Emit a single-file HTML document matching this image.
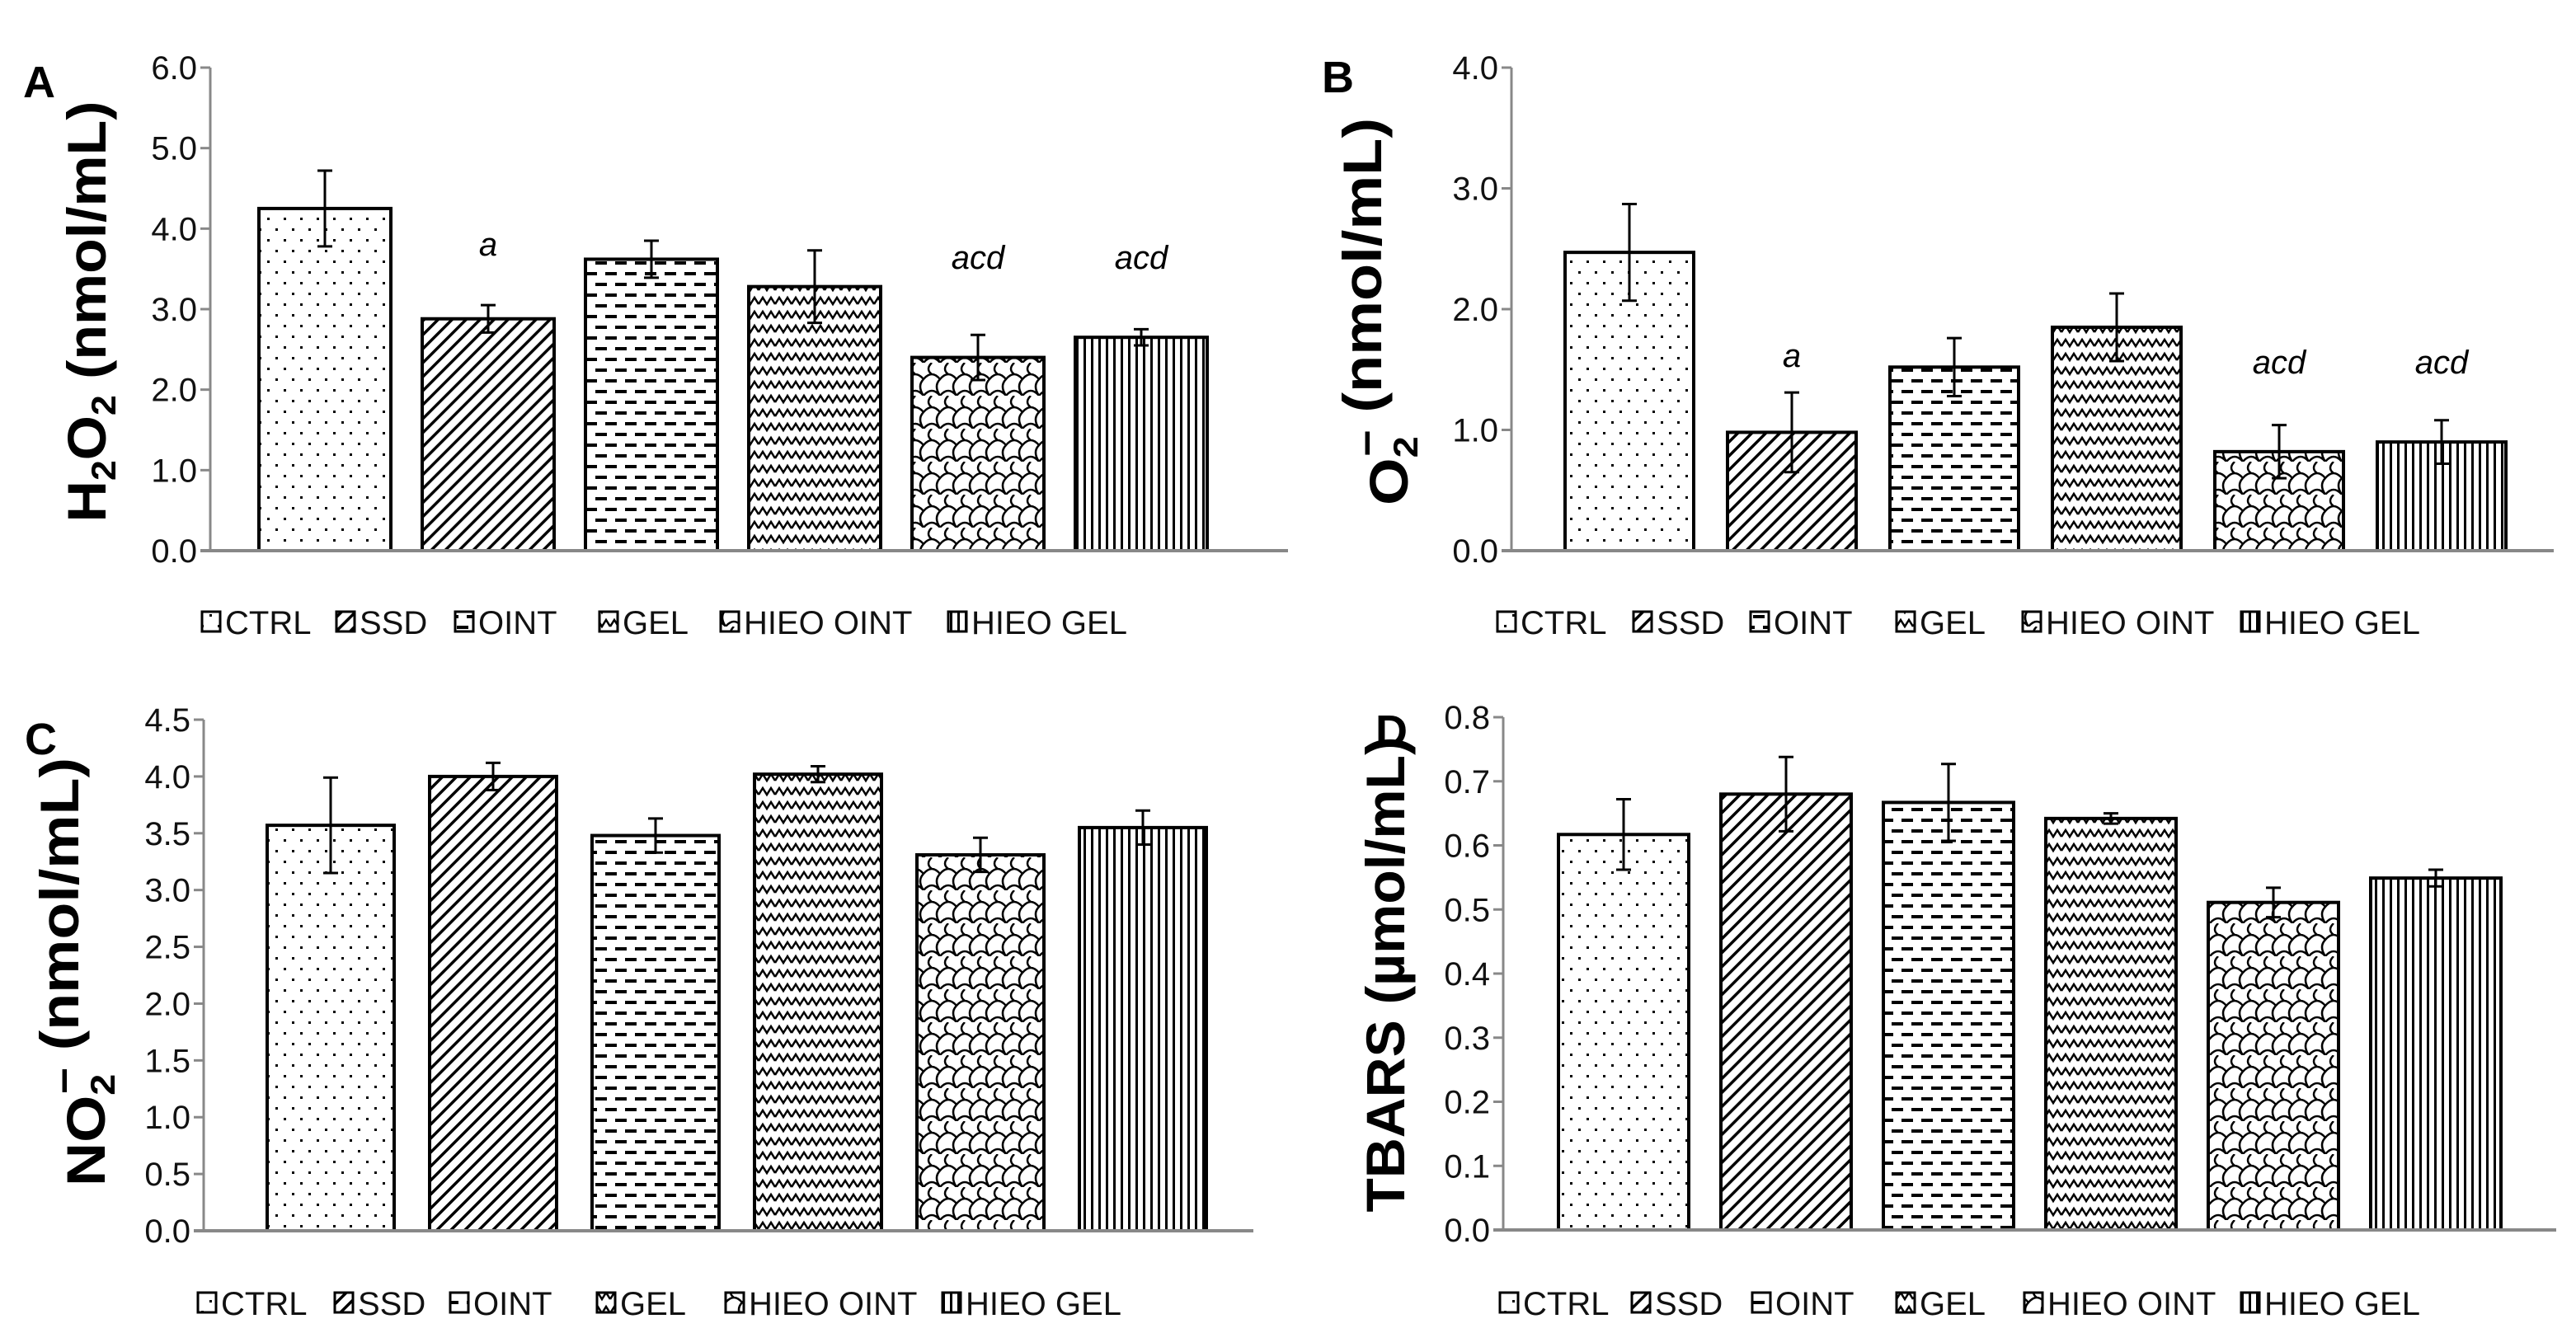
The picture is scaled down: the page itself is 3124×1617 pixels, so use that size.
<!DOCTYPE html>
<html><head><meta charset="utf-8"><style>
html,body{margin:0;padding:0;background:#fff;}
svg{display:block;}
.tick{font-family:"Liberation Sans Narrow","Liberation Sans",sans-serif;font-size:40px;fill:#111;}
.leg{font-family:"Liberation Sans Narrow","Liberation Sans",sans-serif;font-size:40px;fill:#111;}
.ttl{font-family:"Liberation Sans",sans-serif;font-weight:bold;font-size:66px;fill:#000;}
.lbl{font-family:"Liberation Sans",sans-serif;font-weight:bold;font-size:54px;fill:#000;}
.ann{font-family:"Liberation Sans",sans-serif;font-style:italic;font-size:40px;fill:#000;}
</style></head><body>
<svg id="fig" width="3124" height="1617" viewBox="0 0 3124 1617" xmlns="http://www.w3.org/2000/svg">
<defs>
<pattern id="p0" patternUnits="userSpaceOnUse" width="20" height="26"><rect width="20" height="26" fill="#fff"/><rect x="4" y="4" width="3" height="3" fill="#000"/><rect x="14" y="17" width="3" height="3" fill="#000"/></pattern>
<pattern id="p1" patternUnits="userSpaceOnUse" width="12" height="12" patternTransform="rotate(45)"><rect width="12" height="12" fill="#fff"/><rect x="0" y="0" width="3.5" height="12" fill="#000"/></pattern>
<pattern id="p2" patternUnits="userSpaceOnUse" width="24" height="26"><rect width="24" height="26" fill="#fff"/><rect x="2" y="5" width="14" height="4" fill="#000"/><rect x="14" y="18" width="14" height="4" fill="#000"/><rect x="-10" y="18" width="14" height="4" fill="#000"/></pattern>
<pattern id="p3" patternUnits="userSpaceOnUse" width="20" height="17"><rect width="20" height="17" fill="#fff"/><path d="M0 12 L5 4 L10 12 L15 4 L20 12" fill="none" stroke="#000" stroke-width="2.5"/></pattern>
<pattern id="p4" patternUnits="userSpaceOnUse" width="40" height="40"><rect width="40" height="40" fill="#fff"/><path d="M0 20 Q10 8 20 20 Q30 8 40 20 M0 40 Q10 28 20 40 Q30 28 40 40 M20 20 Q12 28 20 40 M40 20 Q32 28 40 40 M0 20 Q-8 28 0 40 M10 0 Q2 8 10 14 M30 0 Q22 8 30 14" fill="none" stroke="#000" stroke-width="2.5"/></pattern>
<pattern id="p5" patternUnits="userSpaceOnUse" width="9" height="10"><rect width="9" height="10" fill="#fff"/><rect x="0" y="0" width="3" height="10" fill="#000"/></pattern>
</defs>
</svg>
<script>
var categories = ["CTRL","SSD","OINT","GEL","HIEO OINT","HIEO GEL"];
var valuesA = [4.25, 2.88, 3.62, 3.28, 2.40, 2.65];
var errorsA = [0.47, 0.17, 0.23, 0.45, 0.28, 0.10];
var annotA = ["", "a", "", "", "acd", "acd"];
var ticksA = ["0.0","1.0","2.0","3.0","4.0","5.0","6.0"];
var valuesB = [2.47, 0.98, 1.52, 1.85, 0.82, 0.90];
var errorsB = [0.40, 0.33, 0.24, 0.28, 0.22, 0.18];
var annotB = ["", "a", "", "", "acd", "acd"];
var ticksB = ["0.0","1.0","2.0","3.0","4.0"];
var valuesC = [3.57, 4.00, 3.48, 4.02, 3.31, 3.55];
var errorsC = [0.42, 0.12, 0.15, 0.07, 0.15, 0.15];
var annotC = ["", "", "", "", "", ""];
var ticksC = ["0.0","0.5","1.0","1.5","2.0","2.5","3.0","3.5","4.0","4.5"];
var valuesD = [0.617, 0.680, 0.667, 0.642, 0.511, 0.549];
var errorsD = [0.055, 0.058, 0.060, 0.008, 0.023, 0.013];
var annotD = ["", "", "", "", "", ""];
var ticksD = ["0.0","0.1","0.2","0.3","0.4","0.5","0.6","0.7","0.8"];

var NS = "http://www.w3.org/2000/svg";
var svg = document.getElementById("fig");
function mk(tag, attrs, parent){var e=document.createElementNS(NS,tag);for(var k in attrs)e.setAttribute(k,attrs[k]);(parent||svg).appendChild(e);return e;}

var panels = [
 {id:"a", letter:"A", vals:valuesA, errs:errorsA, ann:annotA, ticks:ticksA, ax:255, axEnd:1562, y0:668, yTop:82, bx:314, bw:160, step:198, annY:[0,296,0,0,312,312],
  title:["H","2","O","2"," (nmol/mL)"], tx:128, ty:378, tlen:511, lx:28, ly:118, legY:755, legX:[245,408,552,727,874,1150]},
 {id:"b", letter:"B", vals:valuesB, errs:errorsB, ann:annotB, ticks:ticksB, ax:1833, axEnd:3097, y0:668, yTop:82, bx:1898, bw:156, step:197, annY:[0,431,0,0,439,439],
  title:["O","2","−","","  (nmol/mL)"], tx:1707, ty:378, tlen:470, lx:1603, ly:112, legY:755, legX:[1816,1981,2123,2300,2453,2718]},
 {id:"c", letter:"C", vals:valuesC, errs:errorsC, ann:annotC, ticks:ticksC, ax:247, axEnd:1520, y0:1493, yTop:873, bx:324, bw:154, step:197, annY:[0,0,0,0,0,0],
  title:["NO","2","−","","  (nmol/mL)"], tx:127, ty:1179, tlen:520, lx:30, ly:915, legY:1581, legX:[240,406,546,724,880,1143]},
 {id:"d", letter:"D", vals:valuesD, errs:errorsD, ann:annotD, ticks:ticksD, ax:1823, axEnd:3100, y0:1492, yTop:870, bx:1890, bw:158, step:197, annY:[0,0,0,0,0,0],
  title:["TBARS (µmol/mL)","","","",""], tx:1703, ty:1182, tlen:577, lx:1668, ly:905, legY:1581, legX:[1819,1979,2125,2300,2455,2718]}
];

panels.forEach(function(p){
  var g = mk("g",{});
  
  
  var maxV = parseFloat(p.ticks[p.ticks.length-1]);
  function yS(v){ return p.y0 - (v/maxV)*(p.y0-p.yTop); }
  function xS(i){ return p.bx + i*p.step; }
  var ya = mk("line",{x1:p.ax,y1:p.yTop,x2:p.ax,y2:p.y0,stroke:"#888","stroke-width":3},g);
  
  
  p.ticks.forEach(function(t,i){
    var v=parseFloat(t), y=yS(v);
    mk("line",{x1:p.ax-12,y1:y,x2:p.ax,y2:y,stroke:"#888","stroke-width":3},g);
    var tl = mk("text",{x:p.ax-16,y:y+14,"text-anchor":"end","class":"tick"},g);
    tl.textContent=t;
    
    
  });
  p.vals.forEach(function(v,i){
    var x=xS(i), y=yS(v);
    var r = mk("rect",{x:x,y:y,width:p.bw,height:p.y0-y,fill:"url(#p"+i+")",stroke:"#000","stroke-width":4},g);
    
    
    var cx=x+p.bw/2, e=p.errs[i];
    var eb = mk("path",{d:"M"+cx+" "+yS(v+e)+"V"+yS(v-e)+"M"+(cx-9)+" "+yS(v+e)+"H"+(cx+9)+"M"+(cx-9)+" "+yS(v-e)+"H"+(cx+9),stroke:"#000","stroke-width":3,fill:"none"},g);
    
    
    if(p.ann[i]){
      var a = mk("text",{x:cx,y:p.annY[i]+14,"text-anchor":"middle","class":"ann"},g);
      a.textContent=p.ann[i];
      
      
    }
  });
  var xa = mk("line",{x1:p.ax-12,y1:p.y0,x2:p.axEnd,y2:p.y0,stroke:"#888","stroke-width":4},g);
  
  
  var tt = mk("text",{x:0,y:0,"text-anchor":"middle","class":"ttl",transform:"translate("+p.tx+","+p.ty+") rotate(-90)",textLength:p.tlen,lengthAdjust:"spacingAndGlyphs"},g);
  
  
  var xOff = 0;
  p.title.forEach(function(s,k){
    if(!s) return;
    var ts = mk("tspan",{},tt);
    if(s==="2"){ ts.setAttribute("font-size","42"); ts.setAttribute("dy","12"); }
    else if(s==="−"){ ts.setAttribute("dy","-44"); ts.setAttribute("dx","-22"); ts.setAttribute("font-size","50"); }
    else if(k>0 && (p.title[k-1]==="2"||p.title[k-1]==="−")){ ts.setAttribute("dy", p.title[k-1]==="2"?"-12":"32"); }
    ts.textContent=s;
  });
  var lt = mk("text",{x:p.lx,y:p.ly,"class":"lbl"},g);
  lt.textContent=p.letter;
  
  
  categories.forEach(function(c,i){
    var lg = mk("g",{},g);
    
    
    mk("rect",{x:p.legX[i],y:p.legY-13,width:22,height:24,fill:"url(#p"+i+")",stroke:"#000","stroke-width":3},lg);
    var t = mk("text",{x:p.legX[i]+28,y:p.legY+14,"class":"leg"},lg);
    t.textContent=c;
  });
});
</script>
</body></html>
